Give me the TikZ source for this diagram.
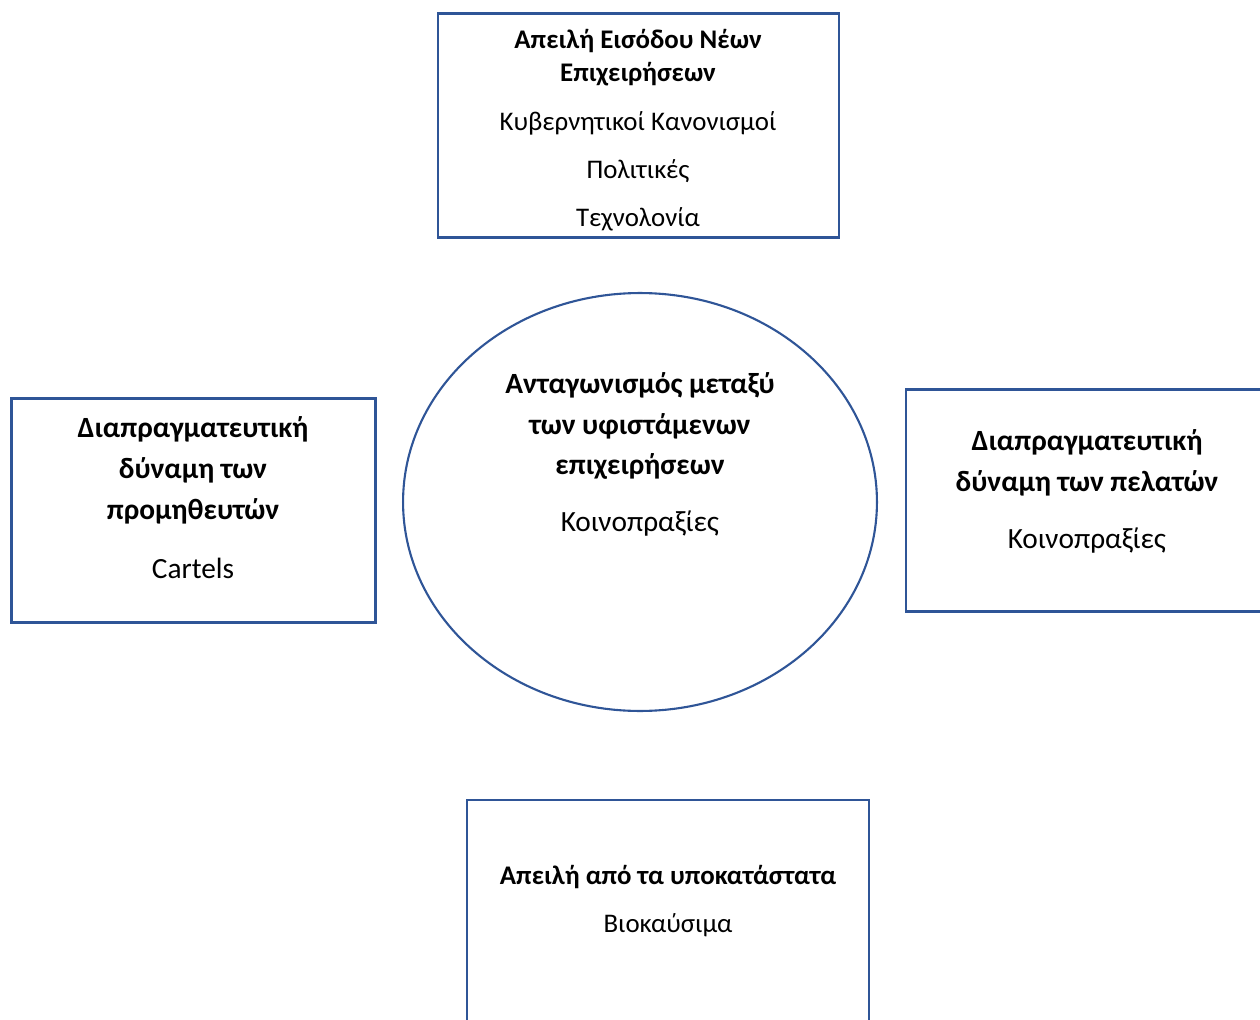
\documentclass[tikz,border=0pt]{standalone}
\usepackage{fontspec}
\setmainfont{Carlito}
\usetikzlibrary{shapes}
\definecolor{frameblue}{RGB}{47,85,151}
\tikzset{
  force box/.style={rectangle,draw=frameblue,line width=1.2pt,inner sep=0pt},
  rivalry/.style={ellipse,draw=frameblue,line width=1.2pt,inner sep=0pt,
                  minimum width=9.48cm,minimum height=8.36cm},
  heading/.style={font=\bfseries\fontsize{15.3}{18.8}\selectfont,align=center,inner sep=0pt},
  factor/.style={font=\fontsize{15.3}{27.3}\selectfont,align=center,inner sep=0pt},
  big heading/.style={font=\bfseries\fontsize{16.7}{23.3}\selectfont,align=center,inner sep=0pt},
  big factor/.style={font=\fontsize{16.7}{20}\selectfont,align=center,inner sep=0pt}
}
\begin{document}
\begin{tikzpicture}[x=0.02cm,y=-0.02cm]
  \useasboundingbox (0,0) rectangle (1260,1020);
  % frames
  \node [force box,minimum width=8.02cm,minimum height=4.48cm] (entry) at (638.5,125.5) {};
  \node [force box,minimum width=7.28cm,minimum height=4.48cm] (suppliers) at (193.5,510.5) {};
  \node [force box,minimum width=7.28cm,minimum height=4.44cm] (buyers) at (1088,500.5) {};
  \node [force box,minimum width=8.04cm,minimum height=4.48cm] (substitutes) at (668,912) {};
  \node [rivalry] (rivals) at (640,502) {};
  % texts
  \node [heading] (entry title) at (638,57.5)
        {Απειλή Εισόδου Νέων\\Επιχειρήσεων};
  \node [factor] (entry list) at (638,171)
        {Κυβερνητικοί Κανονισμοί\\Πολιτικές\\Τεχνολονία};
  \node [big heading] (suppliers title) at (193,470)
        {Διαπραγματευτική\\δύναμη των\\προμηθευτών};
  \node [big factor] (suppliers list) at (193,568) {Cartels};
  \node [big heading] (rivals title) at (640,426)
        {Ανταγωνισμός μεταξύ\\των υφιστάμενων\\επιχειρήσεων};
  \node [big factor] (rivals list) at (640,524) {Κοινοπραξίες};
  \node [big heading] (buyers title) at (1087,463)
        {Διαπραγματευτική\\δύναμη των πελατών};
  \node [big factor] (buyers list) at (1087,541) {Κοινοπραξίες};
  \node [heading] (substitutes title) at (668,877) {Απειλή από τα υποκατάστατα};
  \node [factor] (substitutes list) at (668,925) {Βιοκαύσιμα};
\end{tikzpicture}
\end{document}
